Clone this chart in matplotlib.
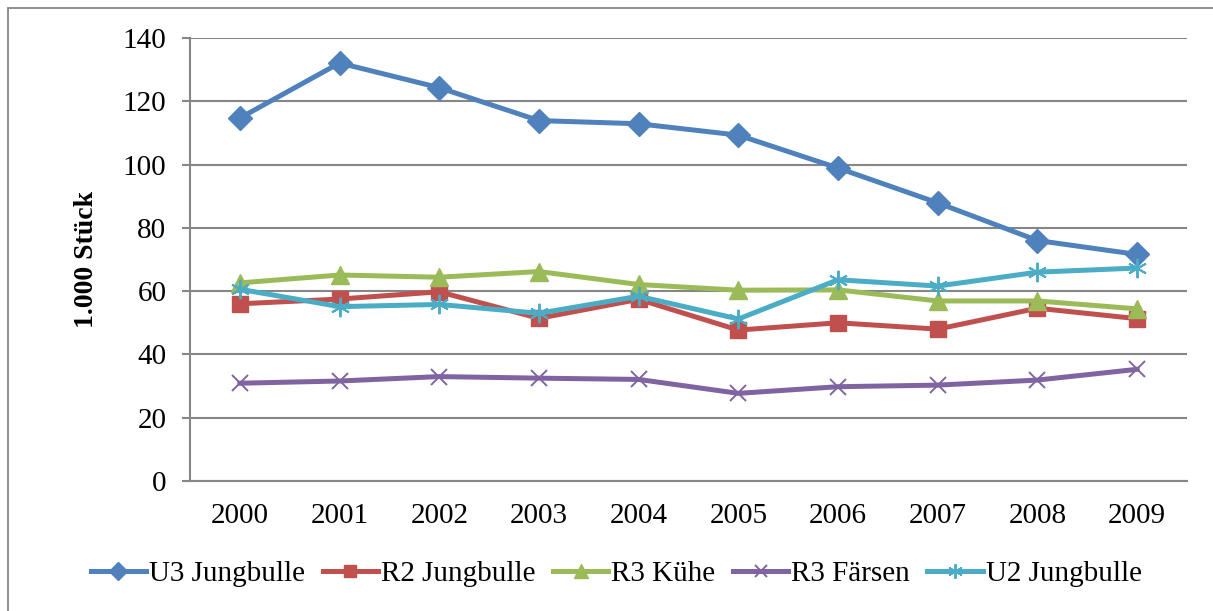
import matplotlib
matplotlib.use("Agg")
import matplotlib.pyplot as plt
from matplotlib.patches import Rectangle
import numpy as np

years = ["2000", "2001", "2002", "2003", "2004", "2005", "2006", "2007", "2008", "2009"]
u3_jungbulle = [114.7, 132.1, 124.3, 113.9, 112.9, 109.3, 98.9, 87.9, 76.0, 71.6]
r2_jungbulle = [56.0, 57.5, 59.8, 51.4, 57.4, 47.7, 50.0, 48.0, 54.6, 51.3]
r3_kuehe = [62.6, 65.1, 64.4, 66.2, 62.1, 60.3, 60.4, 56.9, 56.9, 54.4]
r3_faersen = [30.9, 31.6, 33.0, 32.5, 32.1, 27.7, 29.8, 30.3, 31.9, 35.3]
u2_jungbulle = [60.6, 55.1, 55.8, 53.0, 58.4, 51.2, 63.6, 61.6, 66.0, 67.3]
yticks = [0, 20, 40, 60, 80, 100, 120, 140]

plt.rcParams['font.family'] = ['Liberation Serif', 'DejaVu Serif']

W, H = 1213, 611
fig = plt.figure(figsize=(W / 100, H / 100), dpi=100)
ax = fig.add_axes([190 / W, 1 - 481 / H, (1187 - 190) / W, (481 - 38) / H])

# outer chart border (left/top visible)
fig.patches.append(Rectangle((8 / W, -0.05), 1.2, 1 - 8 / H + 0.05, transform=fig.transFigure,
                             fill=False, edgecolor='#868686', linewidth=1.3))

x = np.arange(len(years))
series = [
    (u3_jungbulle, "U3 Jungbulle", '#4F81BD', 'D', 12, 1.0),
    (r2_jungbulle, "R2 Jungbulle", '#C0504D', 's', 12, 1.0),
    (r3_kuehe, "R3 Kühe", '#9BBB59', '^', 13, 1.0),
    (r3_faersen, "R3 Färsen", '#8064A2', 'x', 12, 1.4),
    (u2_jungbulle, "U2 Jungbulle", '#4BACC6', (6, 2, 0), 14, 1.4),
]
for vals, lab, col, mk, ms, mew in series:
    ax.plot(x, vals, color=col, linewidth=3.6, marker=mk, markersize=ms,
            markerfacecolor=col, markeredgecolor=col, markeredgewidth=mew,
            label=lab, solid_joinstyle='round')

ax.set_xlim(-0.5, 9.5)
ax.set_ylim(0, 140)
ax.set_yticks(yticks)
ax.set_xticks(x)
ax.set_xticklabels(years)
ax.yaxis.grid(True, color='#868686', linewidth=1.5)
ax.set_axisbelow(True)
for s in ['top', 'right']:
    ax.spines[s].set_visible(False)
for s in ['left', 'bottom']:
    ax.spines[s].set_color('#868686')
    ax.spines[s].set_linewidth(1.5)
ax.tick_params(axis='y', length=6, width=1.5, color='#868686', pad=11, labelsize=21)
ax.tick_params(axis='x', length=0, pad=16, labelsize=21)
ax.set_ylabel("1.000 Stück", fontsize=20, fontweight='bold', labelpad=17)

leg = fig.legend(loc='center', bbox_to_anchor=(0.508, 1 - 574 / H), ncol=5, frameon=False,
                 fontsize=21, handlelength=1.9, handletextpad=0.1, columnspacing=0.6,
                 markerscale=0.75)

fig.savefig("out.png", dpi=100)
